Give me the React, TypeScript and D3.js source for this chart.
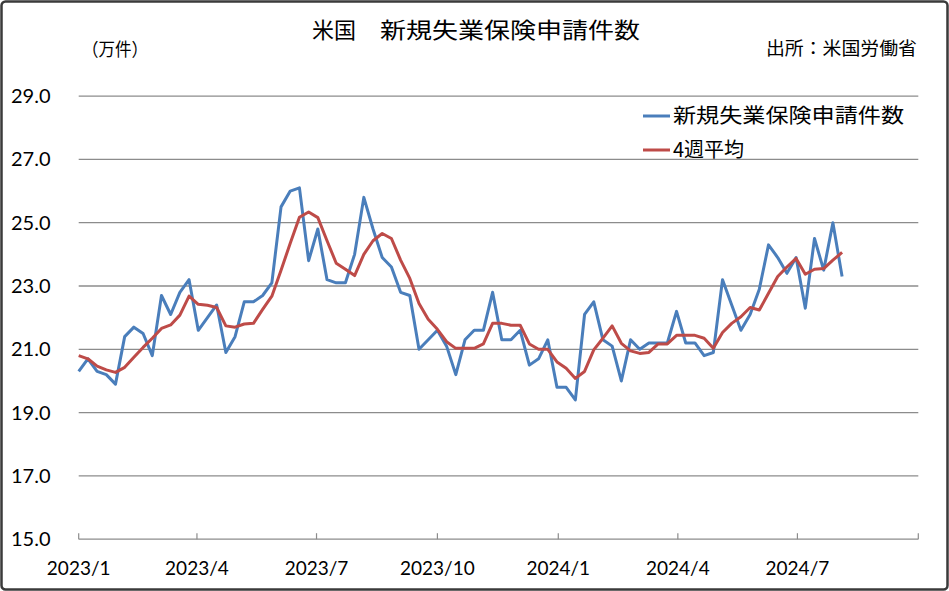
import React from 'react';
import * as d3 from 'd3';

// Weekly initial jobless claims (10k), week by week from 2023-01-01
const startDate = new Date(2023, 0, 1);
const claims = [
  20.3, 20.7, 20.3, 20.2, 19.9, 21.4, 21.7, 21.5, 20.8, 22.7, 22.1, 22.8, 23.2, 21.6, 22.0, 22.4,
  20.9, 21.4, 22.5, 22.5, 22.7, 23.1, 25.5, 26.0, 26.1, 23.8, 24.8, 23.2, 23.1, 23.1, 24.0, 25.8,
  24.8, 23.9, 23.6, 22.8, 22.7, 21.0, 21.3, 21.6, 21.1, 20.2, 21.3, 21.6, 21.6, 22.8, 21.3, 21.3,
  21.6, 20.5, 20.7, 21.3, 19.8, 19.8, 19.4, 22.1, 22.5, 21.3, 21.1, 20.0, 21.3, 21.0, 21.2, 21.2,
  21.2, 22.2, 21.2, 21.2, 20.8, 20.9, 23.2, 22.4, 21.6, 22.1, 22.9, 24.3, 23.9, 23.4, 23.9, 22.3,
  24.5, 23.5, 25.0, 23.3,
];
const avg4w = [
  20.8, 20.7, 20.47, 20.35, 20.27, 20.43, 20.75, 21.06, 21.35, 21.66, 21.77, 22.08, 22.68, 22.42, 22.39, 22.32,
  21.74, 21.7, 21.8, 21.82, 22.26, 22.68, 23.5, 24.35, 25.17, 25.34, 25.16, 24.43, 23.72, 23.53, 23.33, 24.0,
  24.43, 24.66, 24.5, 23.82, 23.24, 22.45, 21.95, 21.63, 21.24, 21.03, 21.03, 21.03, 21.17, 21.82, 21.82, 21.76,
  21.76, 21.17, 21.0, 21.0, 20.6, 20.4, 20.08, 20.3, 20.98, 21.35, 21.74, 21.19, 20.95, 20.87, 20.9, 21.17,
  21.17, 21.44, 21.44, 21.44, 21.35, 21.03, 21.53, 21.82, 22.03, 22.32, 22.24, 22.77, 23.3, 23.6, 23.87, 23.37,
  23.53, 23.55, 23.82, 24.06,
];
const yTicks = [15, 17, 19, 21, 23, 25, 27, 29];
const xTickDates = [
  new Date(2023, 0, 1), new Date(2023, 3, 1), new Date(2023, 6, 1), new Date(2023, 9, 1),
  new Date(2024, 0, 1), new Date(2024, 3, 1), new Date(2024, 6, 1), new Date(2024, 9, 1),
];
const xTickLabels = ['2023/1', '2023/4', '2023/7', '2023/10', '2024/1', '2024/4', '2024/7', ''];
const seriesNames = ['新規失業保険申請件数', '4週平均'];
const title1 = '米国';
const title2 = '新規失業保険申請件数';
const unitLabel = '（万件）';
const sourceLabel = '出所：米国労働省';

const W = 949;
const H = 591;
const BLUE = '#4A7EBB';
const RED = '#BE4B48';
const GRID = '#8C8C8C';
const JP = '"Noto Sans CJK JP", "Noto Sans", sans-serif';
const NUM = 'Lato, "Noto Sans", sans-serif';

export default function App() {
  const x = d3.scaleTime().domain([xTickDates[0], xTickDates[xTickDates.length - 1]]).range([78.7, 918.3]);
  const y = d3.scaleLinear().domain([15, 29]).range([539.2, 96.1]);
  const dates = claims.map((_, i) => d3.timeWeek.offset(startDate, i));
  const line = d3
    .line<number>()
    .x((_, i) => x(dates[i]))
    .y((d) => y(d));

  return (
    <svg
      width={W}
      height={H}
      style={{ position: 'absolute', left: 0, top: 0, display: 'block', background: '#fff' }}
    >
      <rect x={1.5} y={1.5} width={W - 3} height={H - 3} rx={4} fill="#fff" stroke="#3a3a3a" strokeWidth={2.5} />

      <text x={312} y={38} fontFamily={JP} fontSize={22} fill="#000">{title1}</text>
      <text x={380} y={38} fontFamily={JP} fontSize={22} fill="#000" textLength={260} lengthAdjust="spacingAndGlyphs">
        {title2}
      </text>
      <text x={82} y={56} fontFamily={JP} fontSize={18} fill="#000" textLength={66} lengthAdjust="spacingAndGlyphs">
        {unitLabel}
      </text>
      <text x={766} y={55} fontFamily={JP} fontSize={18} fill="#000" textLength={151} lengthAdjust="spacingAndGlyphs">
        {sourceLabel}
      </text>

      {yTicks.map((t) => (
        <g key={t}>
          <line x1={78.7} x2={918.3} y1={y(t)} y2={y(t)} stroke={GRID} strokeWidth={1.3} />
          <text x={11} y={y(t) + 7} fontFamily={NUM} fontSize={20} fill="#000">{t.toFixed(1)}</text>
        </g>
      ))}

      {xTickDates.map((d, i) => (
        <g key={i}>
          <line x1={x(d)} x2={x(d)} y1={y(15) - 6} y2={y(15)} stroke={GRID} strokeWidth={1.2} />
          {xTickLabels[i] && (
            <text x={x(d)} y={575} fontFamily={NUM} fontSize={19} fill="#000" textAnchor="middle">
              {xTickLabels[i]}
            </text>
          )}
        </g>
      ))}

      <path d={line(claims) || ''} fill="none" stroke={BLUE} strokeWidth={3} strokeLinejoin="round" />
      <path d={line(avg4w) || ''} fill="none" stroke={RED} strokeWidth={3} strokeLinejoin="round" />

      <line x1={643} x2={670} y1={116} y2={116} stroke={BLUE} strokeWidth={3} />
      <text x={673} y={123} fontFamily={JP} fontSize={20} fill="#000" textLength={231} lengthAdjust="spacingAndGlyphs">
        {seriesNames[0]}
      </text>
      <line x1={643} x2={670} y1={150} y2={150} stroke={RED} strokeWidth={3} />
      <text x={673} y={157} fontFamily={JP} fontSize={20} fill="#000">{seriesNames[1]}</text>
    </svg>
  );
}
